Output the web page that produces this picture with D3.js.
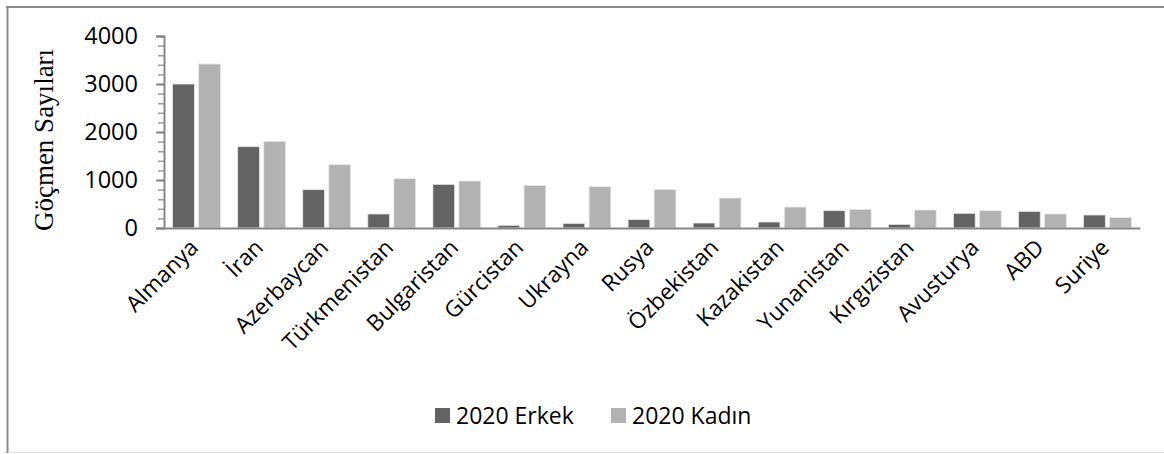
<!DOCTYPE html>
<html><head><meta charset="utf-8">
<script src="https://cdn.jsdelivr.net/npm/d3@7/dist/d3.min.js"></script>
<style>body{margin:0;background:#fff}svg{display:block}</style>
</head><body><svg id="c" width="1164" height="454"></svg>
<script>
const categories = ["Almanya","İran","Azerbaycan","Türkmenistan","Bulgaristan","Gürcistan","Ukrayna","Rusya","Özbekistan","Kazakistan","Yunanistan","Kırgızistan","Avusturya","ABD","Suriye"];
const seriesNames = ["2020 Erkek","2020 Kadın"];
const erkek = [3000,1694,798,292,910,56,97,174,104,125,361,76,306,347,271];
const kadin = [3417,1806,1319,1028,979,889,861,799,625,437,389,375,361,292,222];
const yTicks = [0,1000,2000,3000,4000];
const colors = ["#636363","#b2b2b2"];

const svg = d3.select("#c");
const m = {l:164, r:1140, t:36, b:228};
const x = d3.scaleBand().domain(categories).range([m.l, m.r]).padding(0);
const x1 = d3.scaleBand().domain(seriesNames).range([0, x.bandwidth()]).paddingInner(0.165).paddingOuter(0.33);
const y = d3.scaleLinear().domain([0,4000]).range([m.b, m.t]);
const font = "'Open Sans', sans-serif";

// frame
svg.append("line").attr("x1",7.5).attr("x2",7.5).attr("y1",6).attr("y2",453).attr("stroke","#8c8c8c").attr("stroke-width",2);
svg.append("line").attr("x1",6).attr("x2",1164).attr("y1",7).attr("y2",7).attr("stroke","#8c8c8c").attr("stroke-width",2);
svg.append("line").attr("x1",8).attr("x2",1164).attr("y1",452.5).attr("y2",452.5).attr("stroke","#e2e2e2").attr("stroke-width",1);

// bars
const data = [erkek, kadin];
categories.forEach((c,i)=>{
  seriesNames.forEach((s,j)=>{
    const v = data[j][i];
    svg.append("rect")
      .attr("x", x(c)+x1(s)).attr("width", x1.bandwidth())
      .attr("y", y(v)).attr("height", y(0)-y(v))
      .attr("fill", colors[j]).attr("stroke","#e8e8e8").attr("stroke-width",0.8);
  });
});

// y axis
const minor = d3.range(0,4001,200);
const yAxisG = svg.append("g").attr("transform",`translate(${m.l},0)`);
yAxisG.call(d3.axisLeft(y).tickValues(minor).tickSize(6).tickFormat(""));
yAxisG.call(g=>g.selectAll(".tick line").attr("stroke","#9a9a9a").attr("stroke-width",1.5));
const yMaj = svg.append("g").attr("transform",`translate(${m.l},0)`)
  .call(d3.axisLeft(y).tickValues(yTicks).tickSize(8).tickPadding(18).tickFormat(d3.format("d")));
yMaj.select(".domain").attr("stroke","#868686").attr("stroke-width",2);
yAxisG.select(".domain").remove();
yMaj.selectAll(".tick line").attr("stroke","#868686").attr("stroke-width",2);
yMaj.selectAll(".tick text").attr("font-family",font).attr("font-size",23.5).attr("fill","#000");

// x axis
const xAxisG = svg.append("g").attr("transform",`translate(0,${m.b})`)
  .call(d3.axisBottom(x).tickSize(0).tickPadding(0));
xAxisG.select(".domain").attr("stroke","#868686").attr("stroke-width",2);
xAxisG.selectAll(".tick text")
  .attr("font-family",font).attr("font-size",22.5).attr("fill","#000")
  .attr("text-anchor","end").attr("dy",0)
  .attr("transform","translate(3,21) rotate(-45)");

// y title
svg.append("text").attr("transform","translate(53,140) rotate(-90)")
  .attr("text-anchor","middle").attr("font-family","'Liberation Serif', 'Times New Roman', serif")
  .attr("font-size",27).text("Göçmen Sayıları");

// legend
const lx = [435, 611];
seriesNames.forEach((s,j)=>{
  svg.append("rect").attr("x",lx[j]).attr("y",408).attr("width",15).attr("height",15).attr("fill",colors[j]);
  svg.append("text").attr("x",lx[j]+21).attr("y",423.5).attr("font-family",font).attr("font-size",23).text(s);
});
</script></body></html>
